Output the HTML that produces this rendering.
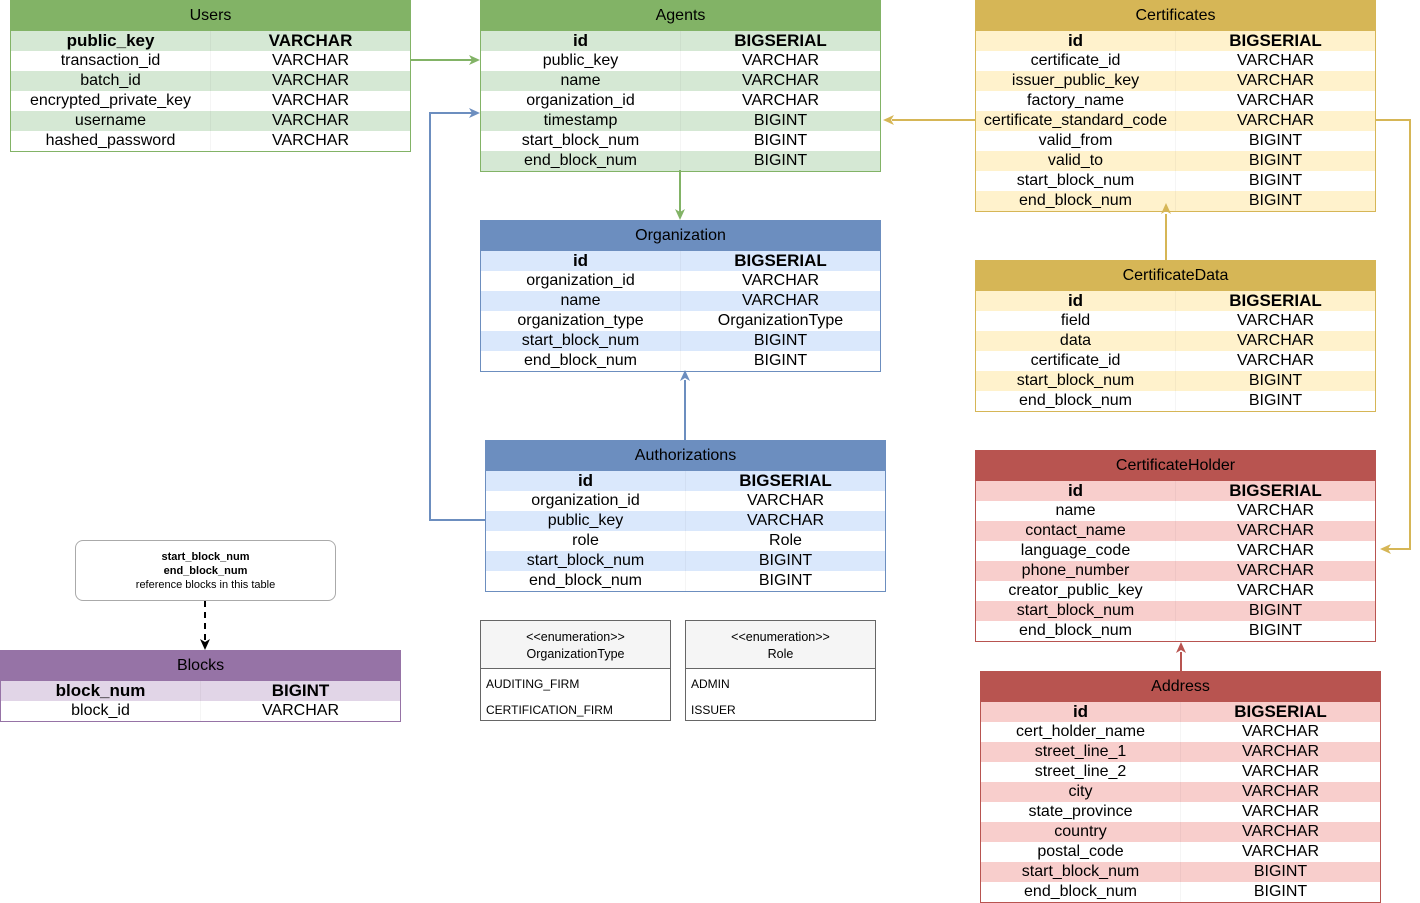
<!DOCTYPE html>
<html><head><meta charset="utf-8"><style>
body{margin:0;width:1420px;height:902px;background:#fff;position:relative;overflow:hidden;font-family:"Liberation Sans",Arial,sans-serif;color:#000}
.t{position:absolute;width:401px;box-sizing:border-box;border:1px solid}
.h{height:30px;line-height:30px;text-align:center;font-size:16px}
.r{display:flex;height:20px;line-height:20px;font-size:16px}
.r div{width:50%;text-align:center;white-space:nowrap}
.r div:first-child{border-right:1px solid rgba(0,0,0,0.04)}
.r.b{font-weight:bold;font-size:17px}
.g{border-color:#82b366}.g .h{background:#82b366}.g .r:nth-child(even){background:#d5e8d4}
.bl{border-color:#6c8ebf}.bl .h{background:#6c8ebf}.bl .r:nth-child(even){background:#dae8fc}
.y{border-color:#d6b656}.y .h{background:#d6b656}.y .r:nth-child(even){background:#fff2cc}
.rd{border-color:#b85450}.rd .h{background:#b85450}.rd .r:nth-child(even){background:#f8cecc}
.p{border-color:#9673a6}.p .h{background:#9673a6}.p .r:nth-child(even){background:#e1d5e7}
.e{position:absolute;width:191px;height:101px;box-sizing:border-box;border:1px solid #666;font-size:12.5px}
.e .eh{height:48px;background:#f5f5f5;border-bottom:1px solid #666;text-align:center;padding-top:8px;box-sizing:border-box;line-height:17px}
.e .ei{padding:2px 5px 0;line-height:26px;font-size:12px}
.note{position:absolute;left:75px;top:540px;width:261px;height:61px;box-sizing:border-box;border:1px solid #aaa;border-radius:8px;text-align:center;font-size:11px;line-height:14px;padding-top:9px}
svg{position:absolute;left:0;top:0}
</style></head><body>

<div class="t g" style="left:10px;top:0">
<div class="h">Users</div>
<div class="r b"><div>public_key</div><div>VARCHAR</div></div>
<div class="r"><div>transaction_id</div><div>VARCHAR</div></div>
<div class="r"><div>batch_id</div><div>VARCHAR</div></div>
<div class="r"><div>encrypted_private_key</div><div>VARCHAR</div></div>
<div class="r"><div>username</div><div>VARCHAR</div></div>
<div class="r"><div>hashed_password</div><div>VARCHAR</div></div>
</div>

<div class="t g" style="left:480px;top:0">
<div class="h">Agents</div>
<div class="r b"><div>id</div><div>BIGSERIAL</div></div>
<div class="r"><div>public_key</div><div>VARCHAR</div></div>
<div class="r"><div>name</div><div>VARCHAR</div></div>
<div class="r"><div>organization_id</div><div>VARCHAR</div></div>
<div class="r"><div>timestamp</div><div>BIGINT</div></div>
<div class="r"><div>start_block_num</div><div>BIGINT</div></div>
<div class="r"><div>end_block_num</div><div>BIGINT</div></div>
</div>

<div class="t y" style="left:975px;top:0">
<div class="h">Certificates</div>
<div class="r b"><div>id</div><div>BIGSERIAL</div></div>
<div class="r"><div>certificate_id</div><div>VARCHAR</div></div>
<div class="r"><div>issuer_public_key</div><div>VARCHAR</div></div>
<div class="r"><div>factory_name</div><div>VARCHAR</div></div>
<div class="r"><div>certificate_standard_code</div><div>VARCHAR</div></div>
<div class="r"><div>valid_from</div><div>BIGINT</div></div>
<div class="r"><div>valid_to</div><div>BIGINT</div></div>
<div class="r"><div>start_block_num</div><div>BIGINT</div></div>
<div class="r"><div>end_block_num</div><div>BIGINT</div></div>
</div>

<div class="t bl" style="left:480px;top:220px">
<div class="h">Organization</div>
<div class="r b"><div>id</div><div>BIGSERIAL</div></div>
<div class="r"><div>organization_id</div><div>VARCHAR</div></div>
<div class="r"><div>name</div><div>VARCHAR</div></div>
<div class="r"><div>organization_type</div><div>OrganizationType</div></div>
<div class="r"><div>start_block_num</div><div>BIGINT</div></div>
<div class="r"><div>end_block_num</div><div>BIGINT</div></div>
</div>

<div class="t y" style="left:975px;top:260px">
<div class="h">CertificateData</div>
<div class="r b"><div>id</div><div>BIGSERIAL</div></div>
<div class="r"><div>field</div><div>VARCHAR</div></div>
<div class="r"><div>data</div><div>VARCHAR</div></div>
<div class="r"><div>certificate_id</div><div>VARCHAR</div></div>
<div class="r"><div>start_block_num</div><div>BIGINT</div></div>
<div class="r"><div>end_block_num</div><div>BIGINT</div></div>
</div>

<div class="t bl" style="left:485px;top:440px">
<div class="h">Authorizations</div>
<div class="r b"><div>id</div><div>BIGSERIAL</div></div>
<div class="r"><div>organization_id</div><div>VARCHAR</div></div>
<div class="r"><div>public_key</div><div>VARCHAR</div></div>
<div class="r"><div>role</div><div>Role</div></div>
<div class="r"><div>start_block_num</div><div>BIGINT</div></div>
<div class="r"><div>end_block_num</div><div>BIGINT</div></div>
</div>

<div class="t rd" style="left:975px;top:450px">
<div class="h">CertificateHolder</div>
<div class="r b"><div>id</div><div>BIGSERIAL</div></div>
<div class="r"><div>name</div><div>VARCHAR</div></div>
<div class="r"><div>contact_name</div><div>VARCHAR</div></div>
<div class="r"><div>language_code</div><div>VARCHAR</div></div>
<div class="r"><div>phone_number</div><div>VARCHAR</div></div>
<div class="r"><div>creator_public_key</div><div>VARCHAR</div></div>
<div class="r"><div>start_block_num</div><div>BIGINT</div></div>
<div class="r"><div>end_block_num</div><div>BIGINT</div></div>
</div>

<div class="t rd" style="left:980px;top:671px">
<div class="h">Address</div>
<div class="r b"><div>id</div><div>BIGSERIAL</div></div>
<div class="r"><div>cert_holder_name</div><div>VARCHAR</div></div>
<div class="r"><div>street_line_1</div><div>VARCHAR</div></div>
<div class="r"><div>street_line_2</div><div>VARCHAR</div></div>
<div class="r"><div>city</div><div>VARCHAR</div></div>
<div class="r"><div>state_province</div><div>VARCHAR</div></div>
<div class="r"><div>country</div><div>VARCHAR</div></div>
<div class="r"><div>postal_code</div><div>VARCHAR</div></div>
<div class="r"><div>start_block_num</div><div>BIGINT</div></div>
<div class="r"><div>end_block_num</div><div>BIGINT</div></div>
</div>

<div class="t p" style="left:0;top:650px">
<div class="h">Blocks</div>
<div class="r b"><div>block_num</div><div>BIGINT</div></div>
<div class="r"><div>block_id</div><div>VARCHAR</div></div>
</div>

<div class="note"><b>start_block_num<br>end_block_num</b><br>reference blocks in this table</div>

<div class="e" style="left:480px;top:620px"><div class="eh">&lt;&lt;enumeration&gt;&gt;<br>OrganizationType</div><div class="ei">AUDITING_FIRM<br>CERTIFICATION_FIRM</div></div>
<div class="e" style="left:685px;top:620px"><div class="eh">&lt;&lt;enumeration&gt;&gt;<br>Role</div><div class="ei">ADMIN<br>ISSUER</div></div>

<svg width="1420" height="902">
<g fill="none" stroke-width="2">
<path d="M410 60H472" stroke="#82b366"/>
<path d="M680 170V212" stroke="#82b366"/>
<path d="M975 120H892" stroke="#d6b656"/>
<path d="M1166 260V214" stroke="#d6b656"/>
<path d="M1375 120H1410V549H1388" stroke="#d6b656"/>
<path d="M685 440V380" stroke="#6c8ebf"/>
<path d="M485 520H430V113H472" stroke="#6c8ebf"/>
<path d="M1181 671V652" stroke="#b85450"/>
<path d="M205 601V642" stroke="#000" stroke-width="2" stroke-dasharray="6 5"/>
</g>
<path d="M480 60l-11-5 3 5-3 5z" fill="#82b366"/>
<path d="M680 220l-5-11 5 3 5-3z" fill="#82b366"/>
<path d="M883 120l11-5-3 5 3 5z" fill="#d6b656"/>
<path d="M1166 203l-5 11 5-3 5 3z" fill="#d6b656"/>
<path d="M1380 549l11-5-3 5 3 5z" fill="#d6b656"/>
<path d="M685 370l-5 11 5-3 5 3z" fill="#6c8ebf"/>
<path d="M480 113l-11-5 3 5-3 5z" fill="#6c8ebf"/>
<path d="M1181 642l-5 11 5-3 5 3z" fill="#b85450"/>
<path d="M205 650l-5-11 5 3 5-3z" fill="#000"/>
</svg>
</body></html>
